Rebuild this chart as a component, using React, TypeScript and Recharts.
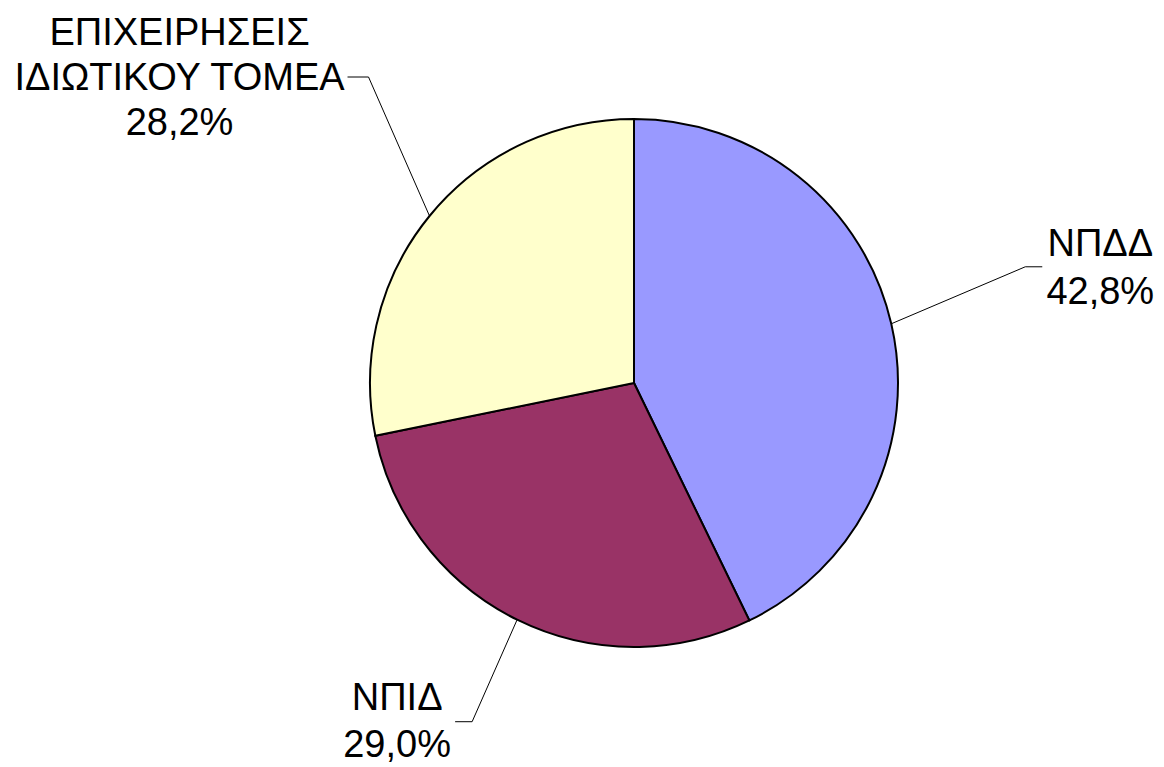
import { PieChart, Pie, Cell } from 'recharts';

const categories = ['ΝΠΔΔ', 'ΝΠΙΔ', 'ΕΠΙΧΕΙΡΗΣΕΙΣ ΙΔΙΩΤΙΚΟΥ ΤΟΜΕΑ'];
const values = [42.8, 29.0, 28.2];
const labelLines = [['ΝΠΔΔ'], ['ΝΠΙΔ'], ['ΕΠΙΧΕΙΡΗΣΕΙΣ', 'ΙΔΙΩΤΙΚΟΥ ΤΟΜΕΑ']];
const colors = ['#9999FF', '#993366', '#FFFFCC'];

const data = categories.map((name, i) => ({ name, value: values[i] }));

// leader line elbow offset from slice edge, horizontal tail, text centre & first baseline (relative to tail end)
const layout = [
  { ex: 134, ey: -57, tail: 17, tx: 58, ty: -11, gap: 48 },
  { ex: -45, ey: 102, tail: -17, tx: -58, ty: -12, gap: 47 },
  { ex: -61, ey: -139, tail: -21, tx: -168, ty: -32, gap: 45 },
];

const RAD = Math.PI / 180;

function renderLabel(props: any) {
  const { cx, cy, midAngle, outerRadius, index, value } = props;
  const L = layout[index];
  const x0 = cx + outerRadius * Math.cos(-midAngle * RAD);
  const y0 = cy + outerRadius * Math.sin(-midAngle * RAD);
  const x1 = x0 + L.ex;
  const y1 = y0 + L.ey;
  const x2 = x1 + L.tail;
  const lines = [...labelLines[index], Number(value).toFixed(1).replace('.', ',') + '%'];
  return (
    <g key={'lbl' + index}>
      <polyline points={`${x0},${y0} ${x1},${y1} ${x2},${y1}`} fill="none" stroke="#000" strokeWidth={1} />
      <text x={x2 + L.tx} y={y1 + L.ty} textAnchor="middle" fontSize={38} fill="#000"
        fontFamily="'Liberation Sans', Arial, sans-serif">
        {lines.map((t, i) => (
          <tspan key={i} x={x2 + L.tx} dy={i === 0 ? 0 : L.gap}>{t}</tspan>
        ))}
      </text>
    </g>
  );
}

export default function App() {
  return (
    <div style={{ position: 'absolute', left: 0, top: 0, width: 1164, height: 767, background: '#fff' }}>
      <PieChart width={1164} height={767} margin={{ top: 0, right: 0, bottom: 0, left: 0 }}>
        <Pie
          data={data}
          dataKey="value"
          nameKey="name"
          cx={634}
          cy={383}
          outerRadius={264}
          startAngle={90}
          endAngle={-270}
          stroke="#000"
          strokeWidth={2}
          label={renderLabel}
          labelLine={false}
          isAnimationActive={false}
        >
          {data.map((d, i) => (
            <Cell key={d.name} fill={colors[i]} />
          ))}
        </Pie>
      </PieChart>
    </div>
  );
}
